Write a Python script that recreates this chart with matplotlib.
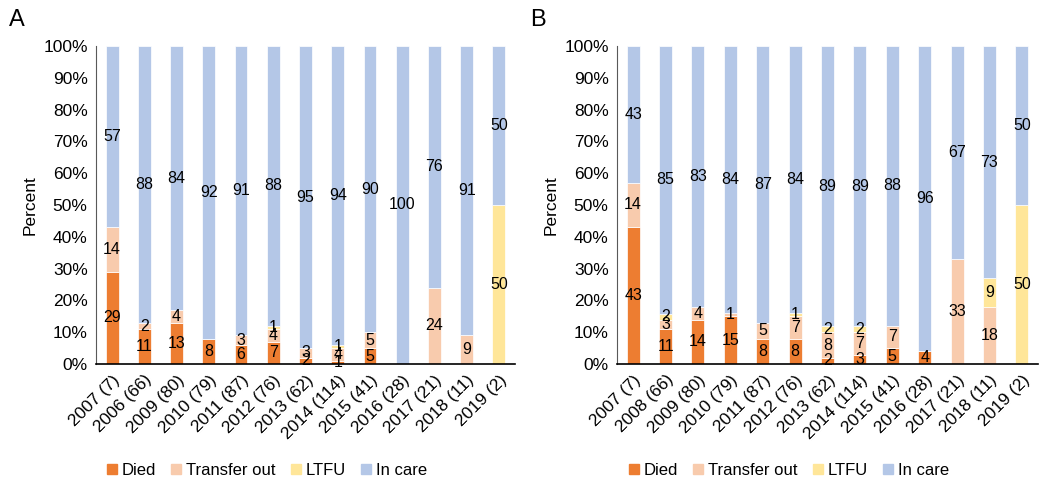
import matplotlib
matplotlib.use("Agg")
import matplotlib.pyplot as plt
import numpy as np
from matplotlib.ticker import PercentFormatter
from matplotlib.patches import Patch

plt.rcParams["font.family"] = ["Liberation Sans", "DejaVu Sans"]

# 类别与数据
series = ["Died", "Transfer out", "LTFU", "In care"]
colors = ["#ED7D31", "#F8CBAD", "#FFE699", "#B4C7E7"]

labels_a = ["2007 (7)", "2006 (66)", "2009 (80)", "2010 (79)", "2011 (87)", "2012 (76)",
            "2013 (62)", "2014 (114)", "2015 (41)", "2016 (28)", "2017 (21)", "2018 (11)",
            "2019 (2)"]
died_a = [29, 11, 13, 8, 6, 7, 2, 1, 5, 0, 0, 0, 0]
transfer_a = [14, 2, 4, 0, 3, 4, 3, 4, 5, 0, 24, 9, 0]
ltfu_a = [0, 0, 0, 0, 0, 1, 0, 1, 0, 0, 0, 0, 50]
incare_a = [57, 88, 84, 92, 91, 88, 95, 94, 90, 100, 76, 91, 50]

labels_b = ["2007 (7)", "2008 (66)", "2009 (80)", "2010 (79)", "2011 (87)", "2012 (76)",
            "2013 (62)", "2014 (114)", "2015 (41)", "2016 (28)", "2017 (21)", "2018 (11)",
            "2019 (2)"]
died_b = [43, 11, 14, 15, 8, 8, 2, 3, 5, 4, 0, 0, 0]
transfer_b = [14, 3, 4, 1, 5, 7, 8, 7, 7, 0, 33, 18, 0]
ltfu_b = [0, 2, 0, 0, 0, 1, 2, 2, 0, 0, 0, 9, 50]
incare_b = [43, 85, 83, 84, 87, 84, 89, 89, 88, 96, 67, 73, 50]


def panel(ax, labels, data):
    vals = np.array(data, dtype=float)
    pct = vals / vals.sum(axis=0) * 100  # 100% stacked
    x = np.arange(len(labels))
    bottom = np.zeros(len(labels))
    for i, (name, c) in enumerate(zip(series, colors)):
        ax.bar(x, pct[i], 0.4, bottom=bottom, color=c, edgecolor="white", linewidth=0.5)
        for xi, b, h, v in zip(x, bottom, pct[i], vals[i]):
            if v > 0:
                ax.text(xi, b + h / 2, f"{int(v)}", ha="center", va="center", fontsize=11.5)
        bottom += pct[i]
    ax.set_xlim(-0.5, len(labels) - 0.5)
    ax.set_ylim(0, 100)
    ax.set_yticks(np.arange(0, 101, 10))
    ax.yaxis.set_major_formatter(PercentFormatter(decimals=0))
    ax.set_xticks(x)
    ax.set_xticklabels(labels, rotation=45, ha="right", rotation_mode="anchor")
    ax.tick_params(length=0, labelsize=12.5, pad=6)
    ax.spines[["top", "right"]].set_visible(False)
    ax.spines["left"].set_color("#595959")
    ax.spines["bottom"].set_color("black")
    ax.spines["bottom"].set_linewidth(1.2)
    ax.set_ylabel("Percent", fontsize=12.5, labelpad=4)
    # 图例在整块图区居中 (含 y 轴标签), 所以相对坐标轴偏左
    handles = [Patch(color=c, label=s) for s, c in zip(series, colors)]
    ax.legend(handles=handles, loc="center", bbox_to_anchor=(0.408, -0.335), ncol=4,
              frameon=False, fontsize=12, handlelength=0.6, handleheight=0.6,
              handletextpad=0.3, columnspacing=0.9)


fig = plt.figure(figsize=(10.5, 4.91), dpi=100)
ax_a = fig.add_axes([0.0914, 0.2587, 0.3991, 0.6476])
ax_b = fig.add_axes([0.5876, 0.2587, 0.4010, 0.6476])
panel(ax_a, labels_a, [died_a, transfer_a, ltfu_a, incare_a])
panel(ax_b, labels_b, [died_b, transfer_b, ltfu_b, incare_b])
fig.text(17 / 1050, 1 - 20 / 491, "A", fontsize=17, ha="center", va="center")
fig.text(538 / 1050, 1 - 20 / 491, "B", fontsize=17, ha="center", va="center")
fig.savefig("out.png", dpi=100)
